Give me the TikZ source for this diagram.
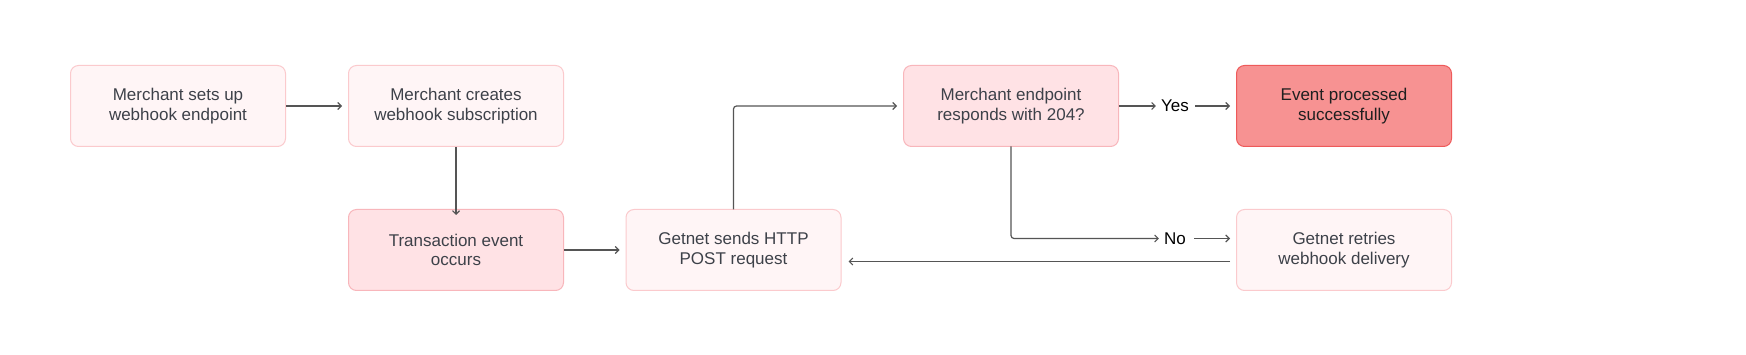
\documentclass[tikz,border=0pt]{standalone}
\usepackage{fontspec}
\setmainfont{Liberation Sans}
\usetikzlibrary{arrows.meta}
\definecolor{lightfill}{HTML}{FFF5F6}
\definecolor{lightline}{HTML}{FBCACD}
\definecolor{midfill}{HTML}{FFE2E5}
\definecolor{midline}{HTML}{F8B6BB}
\definecolor{strongfill}{HTML}{F79292}
\definecolor{strongline}{HTML}{EE5A5A}
\definecolor{boxtext}{HTML}{3D4149}
\definecolor{arrowcol}{HTML}{555555}
\tikzset{
  flowbox/.style={rectangle, rounded corners=8pt, minimum width=215pt, minimum height=81pt,
    line width=1pt, align=center, text=boxtext,
    font=\fontsize{17pt}{19.5pt}\selectfont},
  lightbox/.style={flowbox, draw=lightline, fill=lightfill},
  midbox/.style={flowbox, draw=midline, fill=midfill},
  strongbox/.style={flowbox, draw=strongline, fill=strongfill, text=black!88},
  conn/.style={draw=arrowcol, line width=1.2pt, rounded corners=3pt,
    -{Straight Barb[length=3.5pt,width=7pt,line width=1.1pt]}},
  lbl/.style={font=\fontsize{17pt}{19.5pt}\selectfont, text=black, inner sep=0pt}
}
\begin{document}
\begin{tikzpicture}[x=1pt,y=-1pt]
\useasboundingbox (0,0) rectangle (1746,355);
\fill[white] (0,0) rectangle (1746,355);
\node[lightbox] (A) at (178,106) {Merchant sets up\\webhook endpoint};
\node[lightbox] (B) at (456,106) {Merchant creates\\webhook subscription};
\node[midbox] (C) at (456,250) {Transaction event\\occurs};
\node[lightbox] (D) at (733.5,250) {Getnet sends HTTP\\POST request};
\node[midbox] (E) at (1011,106) {Merchant endpoint\\responds with 204?};
\node[strongbox] (F) at (1344,106) {Event processed\\successfully};
\node[lightbox] (G) at (1344,250) {Getnet retries\\webhook delivery};
\node[lbl] (yes) at (1175,106) {Yes};
\node[lbl] (no) at (1175,238.5) {No};
\coordinate (dtop) at (733.5,209.5);
\coordinate (ebot) at (1011,146.5);
\draw[conn] (A.east) -- ([xshift=-6pt]B.west);
\draw[conn] (B.south) -- ([yshift=-6pt]C.north);
\draw[conn] (C.east) -- ([xshift=-6pt]D.west);
\draw[conn] (dtop) |- ([xshift=-6pt]E.west);
\draw[conn] (E.east) -- ([xshift=-5pt]yes.west);
\draw[conn] ([xshift=6pt]yes.east) -- ([xshift=-6pt]F.west);
\draw[conn] (ebot) |- ([xshift=-5pt]no.west);
\draw[conn] ([xshift=8pt]no.east) -- ([xshift=-6pt,yshift=11.5pt]G.west);
\draw[conn] ([xshift=-6pt,yshift=-11.5pt]G.west) -- ([xshift=7pt,yshift=-11.5pt]D.east);
\end{tikzpicture}
\end{document}
